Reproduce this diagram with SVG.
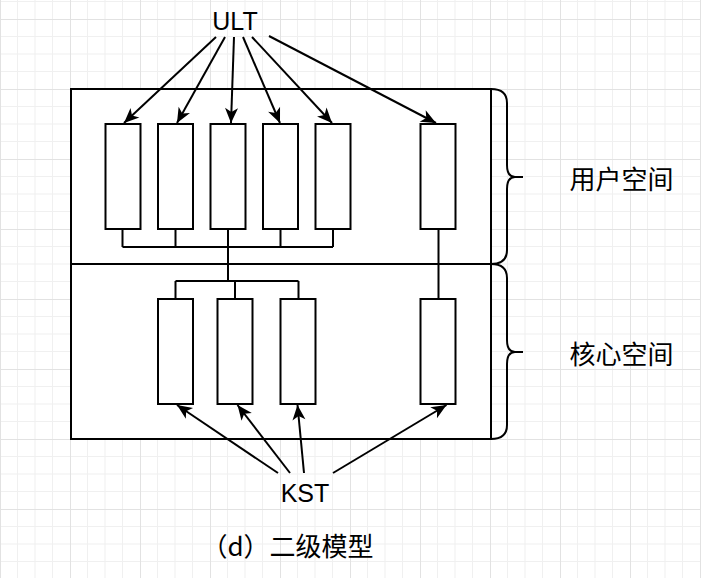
<svg xmlns="http://www.w3.org/2000/svg" width="701" height="578" viewBox="0 0 701 578">
<style>
.ln{stroke:#000;stroke-width:2;fill:none}
.bx{stroke:#000;stroke-width:2;fill:#fff}
.ar{stroke:#000;stroke-width:2;fill:none;marker-end:url(#ah)}
.lat{font-family:"Liberation Sans",Arial,sans-serif;font-size:25px;fill:#000;text-anchor:middle}
.cjk{font-family:"Noto Sans CJK SC","Noto Sans",sans-serif;font-size:26px;fill:#000;text-anchor:middle}
</style>
<defs>
<pattern id="grid" patternUnits="userSpaceOnUse" x="0" y="19" width="70" height="70">
<rect x="0" y="0" width="70" height="70" fill="#fff"/>
<g fill="#f0f0f0">
<rect x="17" y="0" width="1" height="70"/>
<rect x="34.5" y="0" width="1" height="70"/>
<rect x="52" y="0" width="1" height="70"/>
<rect x="0" y="17" width="70" height="1"/>
<rect x="0" y="34.5" width="70" height="1"/>
<rect x="0" y="52" width="70" height="1"/>
</g>
<g fill="#e2e2e2">
<rect x="0" y="0" width="1" height="70"/>
<rect x="0" y="0" width="70" height="1"/>
</g>
</pattern>
<marker id="ah" markerUnits="userSpaceOnUse" viewBox="-16 -8 17 16" refX="0" refY="0" markerWidth="17" markerHeight="16" orient="auto">
<path d="M0,0 L-15,-6.5 L-11,0 L-15,6.5 Z" fill="#000"/>
</marker>
</defs>
<rect x="0" y="0" width="701" height="578" fill="url(#grid)"/>

<g id="outer">
<rect class="bx" x="71" y="89" width="420" height="350"/>
<line class="ln" x1="71" y1="264" x2="491" y2="264"/>
</g>

<g id="brace-user">
<path class="ln" d="M491,89 Q507,89 507,103 L507,165 Q507,177 515,177 L523,177 M515,177 Q507,177 507,189 L507,250 Q507,264 491,264"/>
</g>
<g id="brace-kernel">
<path class="ln" d="M491,264 Q507,264 507,278 L507,340 Q507,352 515,352 L523,352 M515,352 Q507,352 507,364 L507,425 Q507,439 491,439"/>
</g>

<g id="connectors">
<path class="ln" d="M122.5,229 V247 M175.5,229 V247 M280.5,229 V247 M333,229 V247 M122.5,247 H333 M228,229 V281 M175.5,281 H298.5 M175.5,281 V299 M235,281 V299 M298.5,281 V299 M438.5,229 V299"/>
<line class="ar" x1="216" y1="37" x2="124" y2="123"/>
<line class="ar" x1="225" y1="37" x2="177" y2="123"/>
<line class="ar" x1="234" y1="37" x2="231" y2="123"/>
<line class="ar" x1="243" y1="37" x2="280" y2="123"/>
<line class="ar" x1="252" y1="37" x2="332" y2="123"/>
<line class="ar" x1="269" y1="36" x2="436" y2="123"/>
<line class="ar" x1="278" y1="473" x2="177" y2="405"/>
<line class="ar" x1="290" y1="473" x2="237.5" y2="405"/>
<line class="ar" x1="304" y1="473" x2="297.5" y2="405"/>
<line class="ar" x1="333" y1="473" x2="446.5" y2="405"/>
</g>

<g id="u1"><rect class="bx" x="105.5" y="124" width="35" height="105"/></g>
<g id="u2"><rect class="bx" x="158" y="124" width="35" height="105"/></g>
<g id="u3"><rect class="bx" x="210.5" y="124" width="35" height="105"/></g>
<g id="u4"><rect class="bx" x="263" y="124" width="35" height="105"/></g>
<g id="u5"><rect class="bx" x="315.5" y="124" width="35" height="105"/></g>
<g id="u6"><rect class="bx" x="420.5" y="124" width="35" height="105"/></g>

<g id="k1"><rect class="bx" x="158" y="299" width="35" height="105"/></g>
<g id="k2"><rect class="bx" x="217.5" y="299" width="35" height="105"/></g>
<g id="k3"><rect class="bx" x="280.5" y="299" width="35" height="105"/></g>
<g id="k4"><rect class="bx" x="420.5" y="299" width="35" height="105"/></g>

<g id="ult"><text class="lat" x="235" y="30">ULT</text></g>
<g id="kst"><text class="lat" x="305" y="501.5">KST</text></g>
<g id="user-space"><text class="cjk" x="621.5" y="188.5">用户空间</text></g>
<g id="kernel-space"><text class="cjk" x="621.5" y="364">核心空间</text></g>
<g id="caption"><text class="cjk" x="287.5" y="556">（d）二级模型</text></g>
</svg>
